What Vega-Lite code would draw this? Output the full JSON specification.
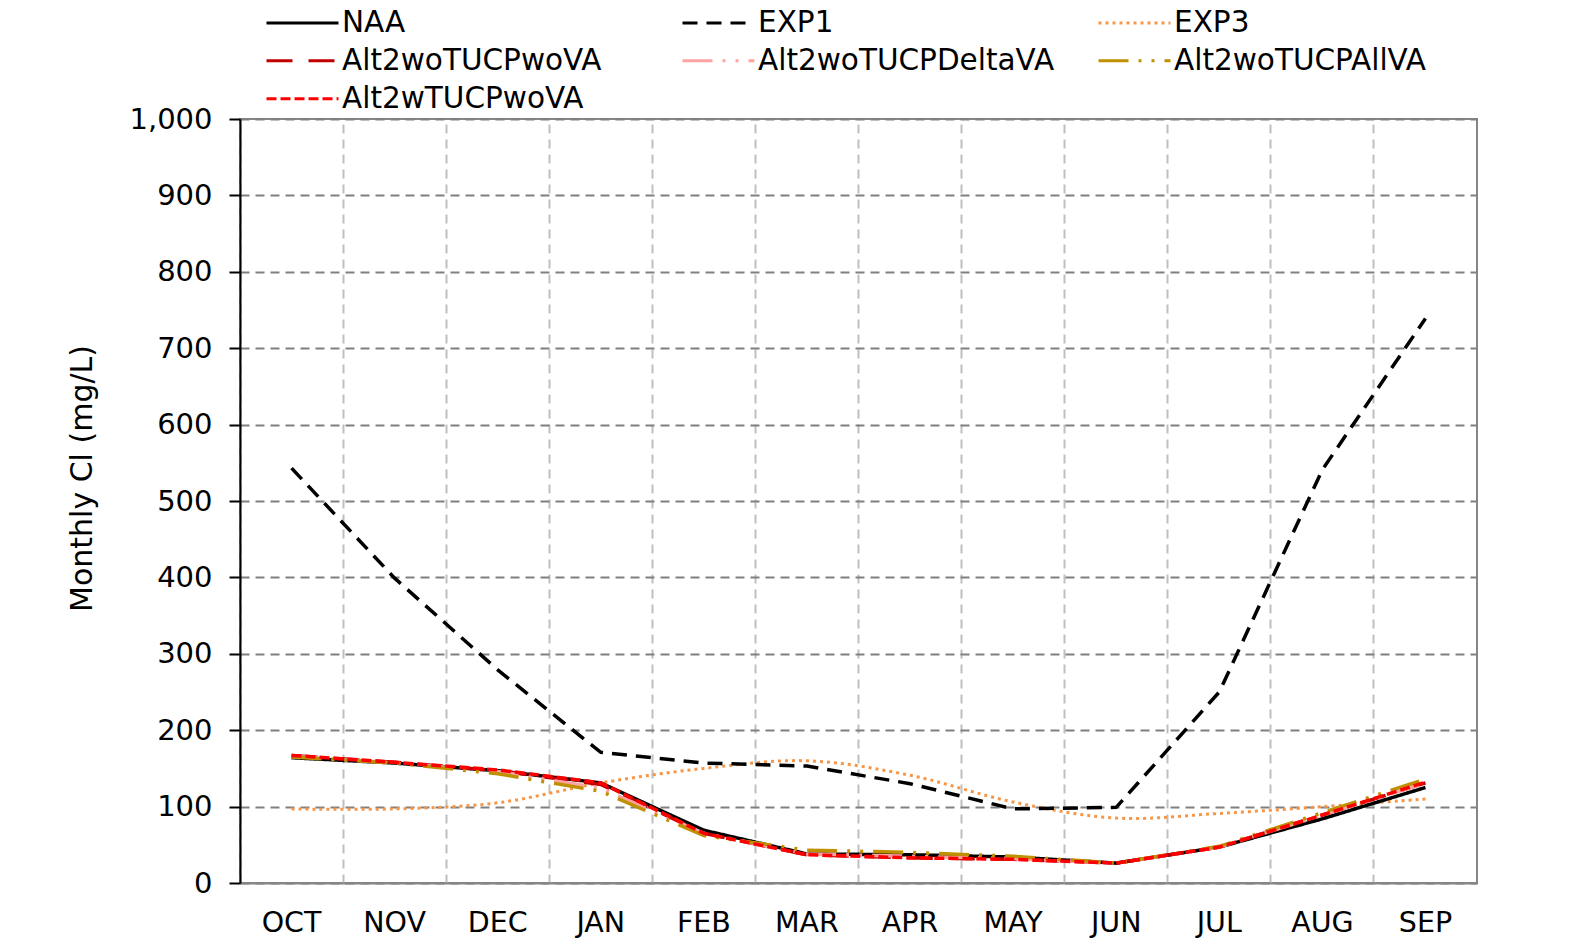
{
  "$schema": "https://vega.github.io/schema/vega-lite/v6.json",
  "autosize": {"type": "none"},
  "padding": {"left": 240, "top": 119, "right": 104, "bottom": 69},
  "width": 1237,
  "height": 764,
  "background": "#ffffff",
  "data": {
    "values": [
      {"month": "OCT", "series": "NAA", "value": 164},
      {"month": "NOV", "series": "NAA", "value": 157},
      {"month": "DEC", "series": "NAA", "value": 147},
      {"month": "JAN", "series": "NAA", "value": 131},
      {"month": "FEB", "series": "NAA", "value": 69},
      {"month": "MAR", "series": "NAA", "value": 38},
      {"month": "APR", "series": "NAA", "value": 37},
      {"month": "MAY", "series": "NAA", "value": 34},
      {"month": "JUN", "series": "NAA", "value": 26},
      {"month": "JUL", "series": "NAA", "value": 47},
      {"month": "AUG", "series": "NAA", "value": 84},
      {"month": "SEP", "series": "NAA", "value": 125},

      {"month": "OCT", "series": "EXP1", "value": 543},
      {"month": "NOV", "series": "EXP1", "value": 399},
      {"month": "DEC", "series": "EXP1", "value": 279},
      {"month": "JAN", "series": "EXP1", "value": 171},
      {"month": "FEB", "series": "EXP1", "value": 157},
      {"month": "MAR", "series": "EXP1", "value": 153},
      {"month": "APR", "series": "EXP1", "value": 130},
      {"month": "MAY", "series": "EXP1", "value": 97},
      {"month": "JUN", "series": "EXP1", "value": 99},
      {"month": "JUL", "series": "EXP1", "value": 250},
      {"month": "AUG", "series": "EXP1", "value": 541},
      {"month": "SEP", "series": "EXP1", "value": 739},

      {"month": "OCT", "series": "EXP3", "value": 97},
      {"month": "NOV", "series": "EXP3", "value": 97},
      {"month": "DEC", "series": "EXP3", "value": 105},
      {"month": "JAN", "series": "EXP3", "value": 131},
      {"month": "FEB", "series": "EXP3", "value": 150},
      {"month": "MAR", "series": "EXP3", "value": 160},
      {"month": "APR", "series": "EXP3", "value": 141},
      {"month": "MAY", "series": "EXP3", "value": 106},
      {"month": "JUN", "series": "EXP3", "value": 85},
      {"month": "JUL", "series": "EXP3", "value": 91},
      {"month": "AUG", "series": "EXP3", "value": 100},
      {"month": "SEP", "series": "EXP3", "value": 110},

      {"month": "OCT", "series": "Alt2woTUCPwoVA", "value": 167},
      {"month": "NOV", "series": "Alt2woTUCPwoVA", "value": 158},
      {"month": "DEC", "series": "Alt2woTUCPwoVA", "value": 147},
      {"month": "JAN", "series": "Alt2woTUCPwoVA", "value": 129},
      {"month": "FEB", "series": "Alt2woTUCPwoVA", "value": 65},
      {"month": "MAR", "series": "Alt2woTUCPwoVA", "value": 37},
      {"month": "APR", "series": "Alt2woTUCPwoVA", "value": 33},
      {"month": "MAY", "series": "Alt2woTUCPwoVA", "value": 31},
      {"month": "JUN", "series": "Alt2woTUCPwoVA", "value": 26},
      {"month": "JUL", "series": "Alt2woTUCPwoVA", "value": 47},
      {"month": "AUG", "series": "Alt2woTUCPwoVA", "value": 89},
      {"month": "SEP", "series": "Alt2woTUCPwoVA", "value": 131},

      {"month": "OCT", "series": "Alt2woTUCPDeltaVA", "value": 166},
      {"month": "NOV", "series": "Alt2woTUCPDeltaVA", "value": 157},
      {"month": "DEC", "series": "Alt2woTUCPDeltaVA", "value": 146},
      {"month": "JAN", "series": "Alt2woTUCPDeltaVA", "value": 124},
      {"month": "FEB", "series": "Alt2woTUCPDeltaVA", "value": 65},
      {"month": "MAR", "series": "Alt2woTUCPDeltaVA", "value": 38},
      {"month": "APR", "series": "Alt2woTUCPDeltaVA", "value": 35},
      {"month": "MAY", "series": "Alt2woTUCPDeltaVA", "value": 32},
      {"month": "JUN", "series": "Alt2woTUCPDeltaVA", "value": 26},
      {"month": "JUL", "series": "Alt2woTUCPDeltaVA", "value": 47},
      {"month": "AUG", "series": "Alt2woTUCPDeltaVA", "value": 89},
      {"month": "SEP", "series": "Alt2woTUCPDeltaVA", "value": 131},

      {"month": "OCT", "series": "Alt2woTUCPAllVA", "value": 165},
      {"month": "NOV", "series": "Alt2woTUCPAllVA", "value": 157},
      {"month": "DEC", "series": "Alt2woTUCPAllVA", "value": 143},
      {"month": "JAN", "series": "Alt2woTUCPAllVA", "value": 120},
      {"month": "FEB", "series": "Alt2woTUCPAllVA", "value": 62},
      {"month": "MAR", "series": "Alt2woTUCPAllVA", "value": 43},
      {"month": "APR", "series": "Alt2woTUCPAllVA", "value": 40},
      {"month": "MAY", "series": "Alt2woTUCPAllVA", "value": 35},
      {"month": "JUN", "series": "Alt2woTUCPAllVA", "value": 26},
      {"month": "JUL", "series": "Alt2woTUCPAllVA", "value": 48},
      {"month": "AUG", "series": "Alt2woTUCPAllVA", "value": 92},
      {"month": "SEP", "series": "Alt2woTUCPAllVA", "value": 136},

      {"month": "OCT", "series": "Alt2wTUCPwoVA", "value": 167},
      {"month": "NOV", "series": "Alt2wTUCPwoVA", "value": 158},
      {"month": "DEC", "series": "Alt2wTUCPwoVA", "value": 148},
      {"month": "JAN", "series": "Alt2wTUCPwoVA", "value": 131},
      {"month": "FEB", "series": "Alt2wTUCPwoVA", "value": 65},
      {"month": "MAR", "series": "Alt2wTUCPwoVA", "value": 37},
      {"month": "APR", "series": "Alt2wTUCPwoVA", "value": 33},
      {"month": "MAY", "series": "Alt2wTUCPwoVA", "value": 31},
      {"month": "JUN", "series": "Alt2wTUCPwoVA", "value": 26},
      {"month": "JUL", "series": "Alt2wTUCPwoVA", "value": 47},
      {"month": "AUG", "series": "Alt2wTUCPwoVA", "value": 89},
      {"month": "SEP", "series": "Alt2wTUCPwoVA", "value": 132}
    ]
  },
  "encoding": {
    "x": {
      "field": "month",
      "type": "ordinal",
      "sort": ["OCT", "NOV", "DEC", "JAN", "FEB", "MAR", "APR", "MAY", "JUN", "JUL", "AUG", "SEP"],
      "scale": {"type": "band", "paddingInner": 0, "paddingOuter": 0},
      "axis": null
    },
    "y": {
      "field": "value",
      "type": "quantitative",
      "title": "Monthly Cl (mg/L)",
      "scale": {"domain": [0, 1000], "nice": false},
      "axis": {
        "values": [0, 100, 200, 300, 400, 500, 600, 700, 800, 900, 1000],
        "format": ",d",
        "grid": true,
        "gridColor": "#808080",
        "gridDash": [9, 6],
        "gridWidth": 2,
        "domainColor": "#000000",
        "domainWidth": 2,
        "tickColor": "#000000",
        "tickWidth": 2,
        "tickSize": 11,
        "labelPadding": 17,
        "labelFontSize": 29,
        "labelColor": "#000000",
        "titleFontSize": 30,
        "titleFontWeight": "normal",
        "titleColor": "#000000",
        "titleAngle": -90,
        "titleX": -149,
        "titleY": 359,
        "titleAlign": "center",
        "titleBaseline": "alphabetic"
      }
    },
    "color": {
      "field": "series",
      "type": "nominal",
      "title": null,
      "scale": {
        "domain": ["NAA", "EXP1", "EXP3", "Alt2woTUCPwoVA", "Alt2woTUCPDeltaVA", "Alt2woTUCPAllVA", "Alt2wTUCPwoVA"],
        "range": ["#000000", "#000000", "#F79646", "#C00000", "#FFA3A3", "#BF9000", "#FF0000"]
      }
    },
    "strokeDash": {
      "field": "series",
      "type": "nominal",
      "title": null,
      "scale": {
        "domain": ["NAA", "EXP1", "EXP3", "Alt2woTUCPwoVA", "Alt2woTUCPDeltaVA", "Alt2woTUCPAllVA", "Alt2wTUCPwoVA"],
        "range": [[1, 0], [15, 9], [3, 4], [26, 16], [30, 10, 3, 10, 3, 10], [30, 10, 3, 10, 3, 10], [10, 4]]
      }
    }
  },
  "layer": [
    {
      "transform": [{"filter": "datum.series === 'EXP3'"}],
      "mark": {"type": "line", "interpolate": "catmull-rom", "strokeWidth": 3},
      "encoding": {
        "x": {
          "field": "month",
          "type": "ordinal",
          "sort": ["OCT", "NOV", "DEC", "JAN", "FEB", "MAR", "APR", "MAY", "JUN", "JUL", "AUG", "SEP"],
          "scale": {"type": "band", "paddingInner": 0, "paddingOuter": 0},
          "axis": {
            "orient": "top",
            "bandPosition": 0,
            "grid": true,
            "gridColor": "#BFBFBF",
            "gridDash": [9, 6],
            "gridWidth": 2,
            "labels": false,
            "ticks": false,
            "domain": false,
            "title": null
          }
        }
      }
    },
    {
      "transform": [{"filter": "datum.series !== 'EXP3' && datum.series !== 'Alt2wTUCPwoVA'"}],
      "mark": {"type": "line", "strokeWidth": 3.5},
      "encoding": {
        "x": {
          "field": "month",
          "type": "ordinal",
          "sort": ["OCT", "NOV", "DEC", "JAN", "FEB", "MAR", "APR", "MAY", "JUN", "JUL", "AUG", "SEP"],
          "scale": {"type": "band", "paddingInner": 0, "paddingOuter": 0},
          "axis": {
            "orient": "bottom",
            "grid": false,
            "ticks": false,
            "domainColor": "#868686",
            "domainWidth": 2,
            "labelFontSize": 28.5,
            "labelColor": "#000000",
            "labelPadding": 25,
            "labelAngle": 0,
            "title": null
          }
        }
      }
    },
    {
      "transform": [{"filter": "datum.series === 'Alt2wTUCPwoVA'"}],
      "mark": {"type": "line", "strokeWidth": 3.5}
    }
  ],
  "resolve": {"axis": {"x": "independent"}},
  "config": {
    "font": "DejaVu Sans",
    "view": {"stroke": "#868686", "strokeWidth": 2},
    "legend": {
      "orient": "none",
      "legendX": 25,
      "legendY": -115,
      "columns": 3,
      "direction": "horizontal",
      "gridAlign": "all",
      "columnPadding": 42,
      "rowPadding": 0,
      "clipHeight": 37.5,
      "padding": 0,
      "symbolType": "stroke",
      "symbolSize": 5184,
      "symbolStrokeWidth": 3,
      "labelFont": "DejaVu Sans",
      "labelFontSize": 29.5,
      "labelColor": "#000000",
      "labelOffset": 2,
      "labelLimit": 500
    }
  }
}
